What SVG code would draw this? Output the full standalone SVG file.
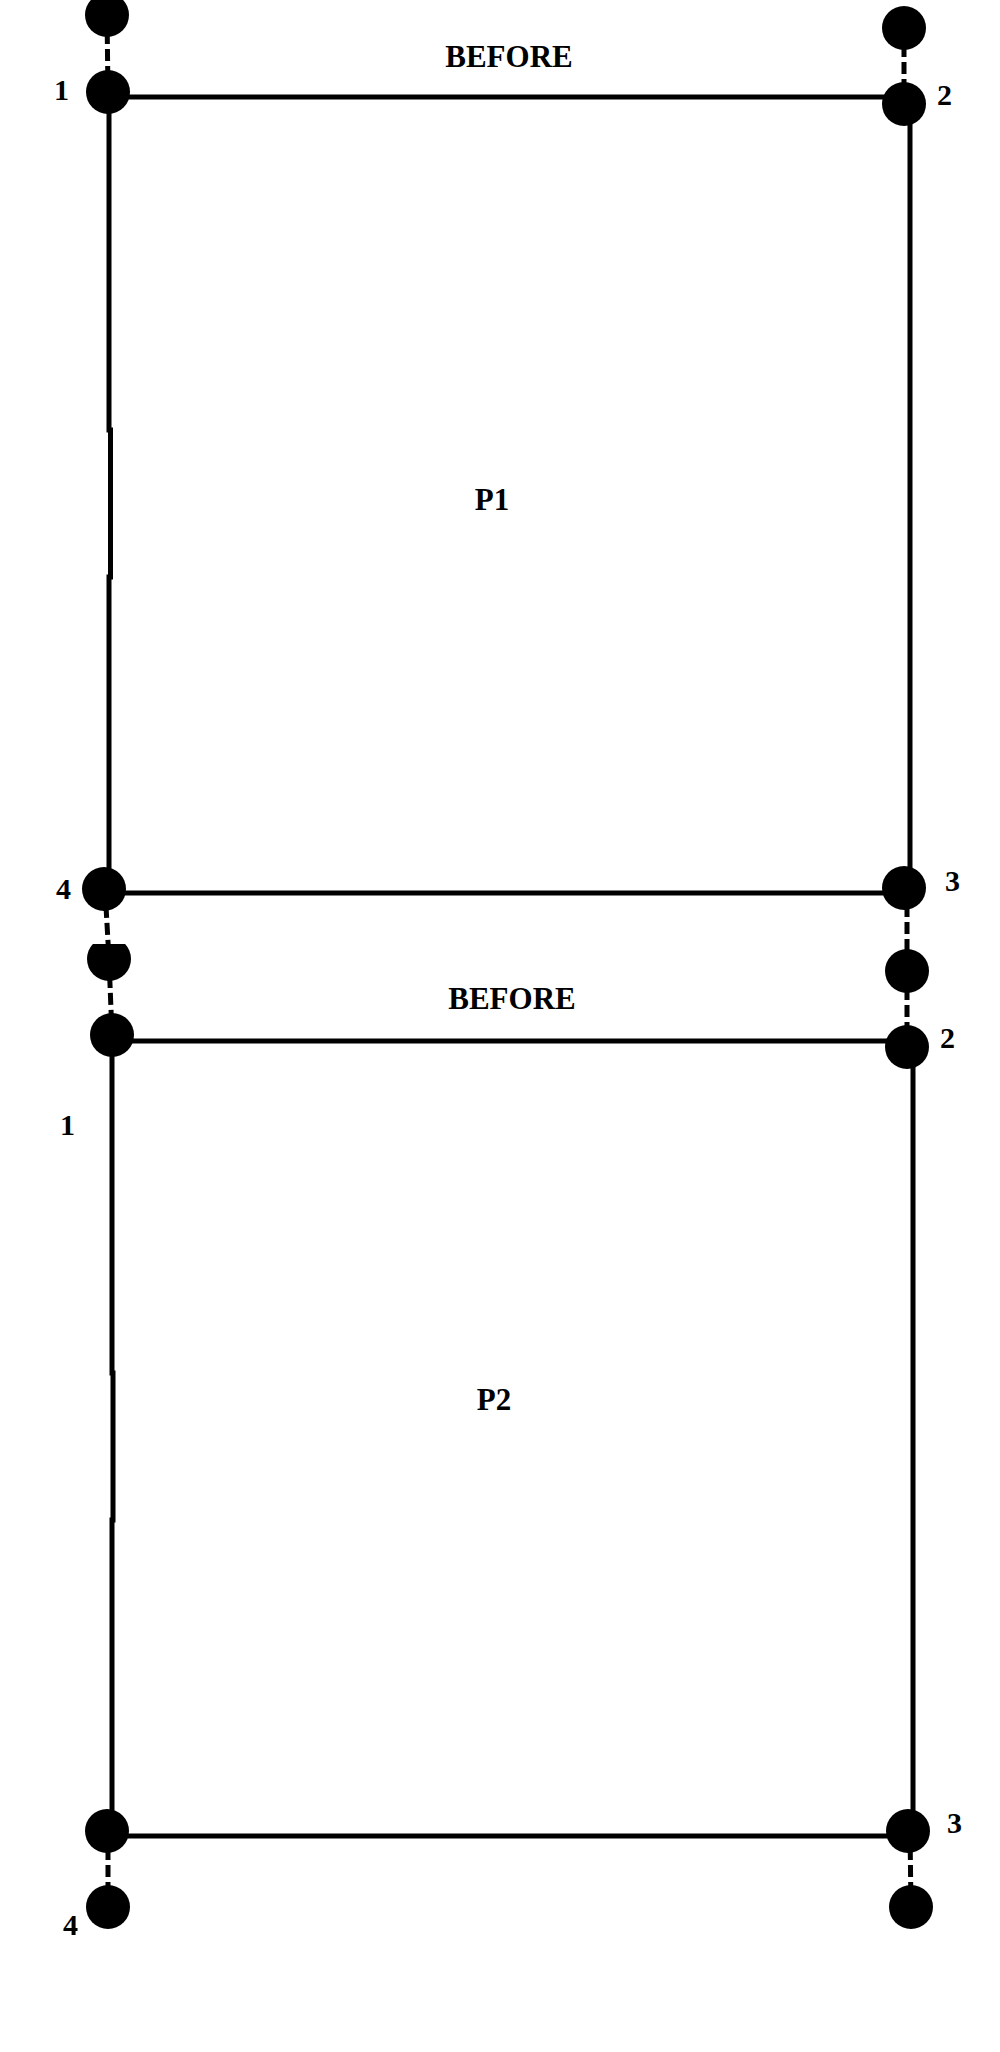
<svg xmlns="http://www.w3.org/2000/svg" width="1000" height="2052" viewBox="0 0 1000 2052">
<style>
.ln{stroke:#000;stroke-width:5;fill:none}
.ds{stroke:#000;stroke-width:5;fill:none;stroke-dasharray:12 5}
.dot{fill:#000}
.t{font-family:"Liberation Serif","Times New Roman",serif;font-weight:bold;font-size:30px;fill:#000}
.big{font-size:31px}
</style>
<defs>
<clipPath id="clipTop"><rect x="60" y="944" width="100" height="60"/></clipPath>
</defs>
<rect width="1000" height="2052" fill="#fff"/>
<g id="connectors">
<line class="ds" x1="107" y1="15" x2="108" y2="92"/>
<line class="ds" x1="904" y1="28" x2="904" y2="104"/>
<line class="ds" x1="105" y1="889" x2="109" y2="959"/>
<line class="ds" x1="109" y1="959" x2="112" y2="1035"/>
<line class="ds" x1="907" y1="888" x2="907" y2="971"/>
<line class="ds" x1="907" y1="971" x2="907" y2="1047"/>
<line class="ds" x1="108" y1="1831" x2="108" y2="1907"/>
<line class="ds" x1="910" y1="1831" x2="911" y2="1907"/>
<line class="ln" x1="108" y1="97" x2="904" y2="97"/>
<polyline class="ln" points="109,92 109,430 110.5,430 110.5,577 109,577 109,889"/>
<line class="ln" x1="910" y1="104" x2="910" y2="888"/>
<line class="ln" x1="104" y1="893" x2="904" y2="893"/>
<line class="ln" x1="112" y1="1041" x2="907" y2="1041"/>
<polyline class="ln" points="112,1035 112,1373 113,1373 113,1520 112,1520 112,1831"/>
<line class="ln" x1="913" y1="1047" x2="913" y2="1831"/>
<line class="ln" x1="107" y1="1836" x2="908" y2="1836"/>
</g>
<g id="n1a"><circle class="dot" cx="107" cy="15" r="22"/></g>
<g id="n1"><circle class="dot" cx="108" cy="92" r="22"/><text class="t" x="54" y="100">1</text></g>
<g id="n2a"><circle class="dot" cx="904" cy="28" r="22"/></g>
<g id="n2"><circle class="dot" cx="904" cy="104" r="22"/><text class="t" x="937" y="105">2</text></g>
<g id="n4"><circle class="dot" cx="104" cy="889" r="22"/><text class="t" x="56" y="899">4</text></g>
<g id="n3"><circle class="dot" cx="904" cy="888" r="22"/><text class="t" x="945" y="891">3</text></g>
<g id="n4b"><circle class="dot" cx="109" cy="959" r="22" clip-path="url(#clipTop)"/></g>
<g id="n3b"><circle class="dot" cx="907" cy="971" r="22"/></g>
<g id="m1"><circle class="dot" cx="112" cy="1035" r="22"/><text class="t" x="60" y="1135">1</text></g>
<g id="m2"><circle class="dot" cx="907" cy="1047" r="22"/><text class="t" x="940" y="1048">2</text></g>
<g id="m4"><circle class="dot" cx="107" cy="1831" r="22"/></g>
<g id="m4b"><circle class="dot" cx="108" cy="1907" r="22"/><text class="t" x="63" y="1935">4</text></g>
<g id="m3"><circle class="dot" cx="908" cy="1831" r="22"/><text class="t" x="947" y="1833">3</text></g>
<g id="m3b"><circle class="dot" cx="911" cy="1907" r="22"/></g>
<g id="labels">
<text class="t big" x="509" y="67" text-anchor="middle">BEFORE</text>
<text class="t big" x="512" y="1009" text-anchor="middle">BEFORE</text>
<text class="t big" x="492" y="510" text-anchor="middle">P1</text>
<text class="t big" x="494" y="1410" text-anchor="middle">P2</text>
</g>
</svg>
